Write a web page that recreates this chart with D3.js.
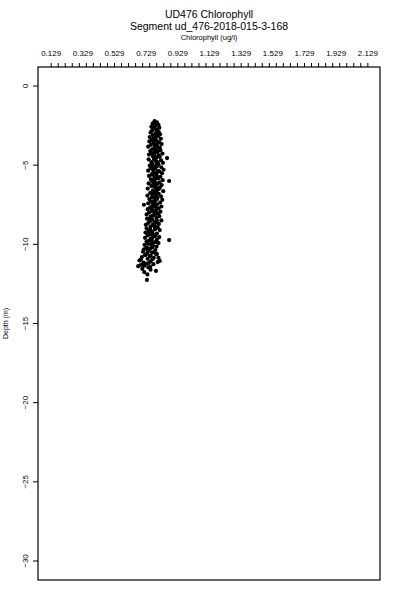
<!DOCTYPE html>
<html>
<head>
<meta charset="utf-8">
<script src="https://cdn.jsdelivr.net/npm/d3@7"></script>
<style>
  body { margin: 0; background: #fff; }
  text { font-family: "Liberation Sans", Arial, sans-serif; fill: #000; }
</style>
</head>
<body>
<div id="chart"></div>
<script>
// depth (m, negative down) and chlorophyll (ug/l) for each sample
const depth = [
  -2.22, -2.30, -2.38, -2.45, -2.51, -2.58, -2.63, -2.70, -2.76, -2.82,
  -2.88, -2.93, -2.99, -3.05, -3.10, -3.16, -3.22, -3.28, -3.33, -3.39,
  -3.45, -3.50, -3.56, -3.61, -3.67, -3.72, -3.78, -3.83, -3.89, -3.95,
  -4.00, -4.05, -4.11, -4.16, -4.22, -4.27, -4.33, -4.38, -4.44, -4.50,
  -4.55, -4.58, -4.63, -4.69, -4.74, -4.80, -4.85, -4.91, -4.96, -5.02,
  -5.07, -5.13, -5.18, -5.24, -5.29, -5.35, -5.40, -5.46, -5.51, -5.57,
  -5.62, -5.68, -5.73, -5.79, -5.84, -5.90, -5.95, -6.00, -6.04, -6.10,
  -6.15, -6.20, -6.26, -6.31, -6.37, -6.42, -6.48, -6.53, -6.59, -6.64,
  -6.70, -6.75, -6.81, -6.86, -6.92, -6.97, -7.03, -7.08, -7.14, -7.19,
  -7.25, -7.30, -7.36, -7.41, -7.47, -7.50, -7.56, -7.61, -7.67, -7.72,
  -7.78, -7.83, -7.89, -7.94, -8.00, -8.05, -8.11, -8.16, -8.22, -8.27,
  -8.33, -8.38, -8.44, -8.49, -8.55, -8.60, -8.66, -8.71, -8.77, -8.82,
  -8.88, -8.93, -8.99, -9.04, -9.10, -9.15, -9.21, -9.26, -9.32, -9.37,
  -9.43, -9.48, -9.54, -9.59, -9.65, -9.70, -9.73, -9.76, -9.81, -9.87,
  -9.92, -9.98, -10.03, -10.09, -10.14, -10.20, -10.25, -10.31, -10.36, -10.42,
  -10.47, -10.52, -10.58, -10.63, -10.69, -10.74, -10.80, -10.85, -10.91, -10.96,
  -11.02, -11.08, -11.15, -11.22, -11.30, -11.38, -11.45, -11.55, -11.68, -11.75,
  -11.90, -12.25, -11.12, -11.05, -10.85, -10.60,
  -2.40, -2.66, -2.91, -3.13, -3.36, -3.58, -3.80, -4.02, -4.25, -4.47,
  -4.70, -4.93, -5.15, -5.37, -5.60, -5.82, -6.07, -6.28, -6.50, -6.73,
  -6.95, -7.17, -7.39, -7.63, -7.86, -8.08, -8.30, -8.52, -8.74, -8.96,
  -9.18, -9.40, -9.62, -9.84, -10.06, -10.28, -10.50, -10.72, -10.94, -11.18,
  -2.55, -3.02, -3.48, -3.92, -4.36, -4.82, -5.26, -5.70, -6.18, -6.62,
  -7.06, -7.52, -7.97, -8.41, -8.85, -9.29, -9.75, -10.18, -10.65, -11.35,
  -3.25, -3.70, -4.18, -4.62, -5.05, -5.48, -5.93, -6.40, -6.84, -7.28,
  -7.74, -8.19, -8.63, -9.07, -9.51, -9.95, -10.40, -11.60, -11.42, -11.25
];
const chl = [
  0.785, 0.800, 0.772, 0.810, 0.790, 0.765, 0.815, 0.780, 0.798, 0.770,
  0.805, 0.760, 0.792, 0.820, 0.775, 0.808, 0.755, 0.790, 0.825, 0.768,
  0.798, 0.752, 0.815, 0.780, 0.830, 0.762, 0.800, 0.745, 0.818, 0.785,
  0.770, 0.822, 0.758, 0.805, 0.790, 0.835, 0.750, 0.812, 0.775, 0.798,
  0.864, 0.782, 0.748, 0.826, 0.795, 0.765, 0.838, 0.772, 0.810, 0.755,
  0.800, 0.828, 0.760, 0.790, 0.842, 0.745, 0.815, 0.778, 0.832, 0.768,
  0.795, 0.750, 0.822, 0.785, 0.808, 0.762, 0.836, 0.877, 0.772, 0.815,
  0.748, 0.800, 0.830, 0.765, 0.790, 0.818, 0.742, 0.805, 0.775, 0.840,
  0.782, 0.758, 0.812, 0.795, 0.740, 0.826, 0.770, 0.803, 0.752, 0.834,
  0.788, 0.764, 0.820, 0.745, 0.800, 0.718, 0.776, 0.828, 0.758, 0.810,
  0.742, 0.795, 0.768, 0.822, 0.750, 0.805, 0.735, 0.786, 0.815, 0.760,
  0.798, 0.738, 0.772, 0.828, 0.755, 0.790, 0.745, 0.812, 0.730, 0.780,
  0.760, 0.805, 0.735, 0.788, 0.818, 0.748, 0.772, 0.728, 0.800, 0.765,
  0.742, 0.790, 0.815, 0.725, 0.768, 0.800, 0.877, 0.752, 0.735, 0.785,
  0.810, 0.745, 0.722, 0.775, 0.798, 0.735, 0.760, 0.718, 0.790, 0.748,
  0.712, 0.770, 0.738, 0.795, 0.725, 0.755, 0.705, 0.780, 0.742, 0.698,
  0.690, 0.760, 0.715, 0.735, 0.700, 0.682, 0.745, 0.708, 0.794, 0.720,
  0.740, 0.737, 0.805, 0.818, 0.810, 0.800,
  0.792, 0.784, 0.812, 0.798, 0.778, 0.806, 0.788, 0.796, 0.772, 0.818,
  0.790, 0.800, 0.780, 0.810, 0.770, 0.795, 0.788, 0.775, 0.812, 0.790,
  0.772, 0.798, 0.782, 0.792, 0.770, 0.785, 0.762, 0.800, 0.775, 0.790,
  0.752, 0.778, 0.762, 0.795, 0.770, 0.755, 0.780, 0.760, 0.772, 0.748,
  0.775, 0.795, 0.775, 0.800, 0.782, 0.805, 0.772, 0.800, 0.782, 0.798,
  0.790, 0.772, 0.790, 0.765, 0.788, 0.752, 0.765, 0.770, 0.728, 0.720,
  0.782, 0.792, 0.788, 0.782, 0.775, 0.800, 0.782, 0.792, 0.775, 0.780,
  0.768, 0.772, 0.788, 0.758, 0.778, 0.768, 0.742, 0.760, 0.758, 0.778
];

const xLim = [0.129, 2.129];
const yLim = [-30, 0];
const xTickLabels = ["0.129", "0.329", "0.529", "0.729", "0.929", "1.129", "1.329", "1.529", "1.729", "1.929", "2.129"];
const yTickValues = [0, -5, -10, -15, -20, -25, -30];
const xMinorCount = 46;

const title1 = "UD476 Chlorophyll";
const title2 = "Segment ud_476-2018-015-3-168";
const xTitle = "Chlorophyll (ug/l)";
const yTitle = "Depth (m)";

function renderProfile() {
  const width = 400, height = 600;
  const margin = { top: 67, right: 20, bottom: 20, left: 38 };
  const innerW = width - margin.left - margin.right;
  const innerH = height - margin.top - margin.bottom;

  const svg = d3.select("#chart").append("svg")
    .attr("width", width).attr("height", height);
  const g = svg.append("g").attr("transform", `translate(${margin.left},${margin.top})`);

  // R style 4% padding on both axes
  const xPad = (xLim[1] - xLim[0]) * 0.04;
  const yPad = (yLim[1] - yLim[0]) * 0.04;
  const x = d3.scaleLinear().domain([xLim[0] - xPad, xLim[1] + xPad]).range([0, innerW]);
  const y = d3.scaleLinear().domain([yLim[1] + yPad, yLim[0] - yPad]).range([0, innerH]);

  // minor ticks along the top
  const minor = d3.range(xMinorCount).map(i => xLim[0] + i * (xLim[1] - xLim[0]) / (xMinorCount - 1));
  const topAxis = g.append("g")
    .call(d3.axisTop(x).tickValues(minor).tickSize(4).tickFormat(""));
  topAxis.select(".domain").remove();

  const labelAxis = g.append("g")
    .call(d3.axisTop(x).tickValues(xTickLabels.map(Number)).tickSize(0).tickPadding(11)
      .tickFormat((d, i) => xTickLabels[i]));
  labelAxis.select(".domain").remove();
  labelAxis.selectAll("text").attr("font-size", 8).attr("font-family", null);

  const leftAxis = g.append("g")
    .call(d3.axisLeft(y).tickValues(yTickValues).tickSize(5).tickPadding(3).tickFormat(d3.format("d")));
  leftAxis.select(".domain").remove();
  leftAxis.selectAll("text")
    .attr("font-size", 8).attr("font-family", null)
    .attr("text-anchor", "middle")
    .attr("transform", d => `translate(-13,${y(d)}) rotate(-90)`)
    .attr("x", 0).attr("y", 0).attr("dy", "0.35em");
  leftAxis.selectAll(".tick").attr("transform", null);
  leftAxis.selectAll(".tick line").attr("y1", d => y(d)).attr("y2", d => y(d));

  g.append("rect")
    .attr("width", innerW).attr("height", innerH)
    .attr("fill", "none").attr("stroke", "#000").attr("stroke-width", 1.2);

  g.selectAll("circle.pt")
    .data(depth.map((d, i) => ({ depth: d, chl: chl[i] })))
    .join("circle")
    .attr("class", "pt")
    .attr("cx", d => x(d.chl))
    .attr("cy", d => y(d.depth))
    .attr("r", 2.1)
    .attr("fill", "#000");

  const cx = margin.left + innerW / 2;
  svg.append("text").attr("x", cx).attr("y", 18).attr("text-anchor", "middle")
    .attr("font-size", 10.5).text(title1);
  svg.append("text").attr("x", cx).attr("y", 30).attr("text-anchor", "middle")
    .attr("font-size", 10.5).text(title2);
  svg.append("text").attr("x", cx).attr("y", 40).attr("text-anchor", "middle")
    .attr("font-size", 7.5).text(xTitle);
  svg.append("text")
    .attr("transform", `translate(8,${margin.top + y(-15)}) rotate(-90)`)
    .attr("text-anchor", "middle").attr("font-size", 7).text(yTitle);
}

renderProfile();
</script>
</body>
</html>
